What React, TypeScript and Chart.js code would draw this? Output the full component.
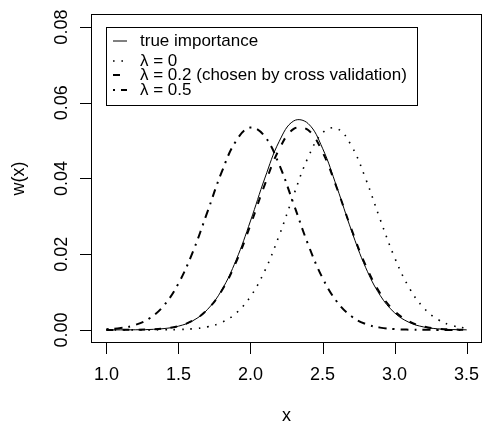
import React, { useEffect, useRef } from "react";
import { Chart, registerables } from "chart.js";

Chart.register(...registerables);

// ---- data ----
const xValues = [1.0, 1.1, 1.2, 1.3, 1.4, 1.5, 1.6, 1.7, 1.8, 1.9, 2.0, 2.1, 2.2, 2.3, 2.4, 2.5, 2.6, 2.7, 2.8, 2.9, 3.0, 3.1, 3.2, 3.3, 3.4, 3.5];
const trueImportance = [0.0, 0.00001, 0.00003, 0.00011, 0.00035, 0.00098, 0.00242, 0.00533, 0.01049, 0.01841, 0.02878, 0.04012, 0.04985, 0.05521, 0.05452, 0.04799, 0.03766, 0.02634, 0.01643, 0.00913, 0.00452, 0.002, 0.00079, 0.00028, 0.00009, 0.00002];
const lambda0 = [0.0, 0.0, 0.0, 0.00001, 0.00003, 0.00009, 0.00029, 0.0008, 0.00199, 0.00442, 0.0088, 0.01568, 0.02501, 0.03568, 0.04557, 0.05207, 0.05323, 0.04871, 0.03988, 0.02921, 0.01915, 0.01123, 0.0059, 0.00277, 0.00116, 0.00044];
const lambda02 = [0.0, 0.00001, 0.00004, 0.00013, 0.00038, 0.00102, 0.00246, 0.00533, 0.01032, 0.01788, 0.02772, 0.03847, 0.04778, 0.0531, 0.0528, 0.04699, 0.03742, 0.02667, 0.017, 0.0097, 0.00496, 0.00226, 0.00093, 0.00034, 0.00011, 0.00003];
const lambda05 = [0.00017, 0.00049, 0.0013, 0.00307, 0.0065, 0.01225, 0.02063, 0.03103, 0.04167, 0.04995, 0.05347, 0.0511, 0.0436, 0.03321, 0.02259, 0.01372, 0.00744, 0.0036, 0.00156, 0.0006, 0.00021, 0.00006, 0.00002, 0.0, 0.0, 0.0];

const xTickValues = [1.0, 1.5, 2.0, 2.5, 3.0, 3.5];
const xTickLabels = ["1.0", "1.5", "2.0", "2.5", "3.0", "3.5"];
const yTickValues = [0, 0.02, 0.04, 0.06, 0.08];
const yTickLabels = ["0.00", "0.02", "0.04", "0.06", "0.08"];
const seriesLabels = ["true importance", "λ = 0", "λ = 0.2 (chosen by cross validation)", "λ = 0.5"];
const xTitle = "x";
const yTitle = "w(x)";

const FONT = '"Liberation Sans", Arial, Helvetica, sans-serif';
const lineStyles = [
  { width: 1, dash: [] as number[] },
  { width: 1.6, dash: [1.6, 6.8] },
  { width: 2, dash: [7, 9] },
  { width: 2, dash: [2, 6, 8, 6] },
];
const legendRowY = [41, 61, 75, 90];

const rPlotPlugin = {
  id: "rPlot",
  afterDraw(chart: any) {
    const ctx = chart.ctx as CanvasRenderingContext2D;
    const { left, top, right, bottom } = chart.chartArea;
    const xs = chart.scales.x;
    const ys = chart.scales.y;
    ctx.save();
    ctx.strokeStyle = "#000";
    ctx.fillStyle = "#000";
    ctx.lineWidth = 1;
    ctx.setLineDash([]);
    // box
    ctx.strokeRect(left - 0.5, top - 0.5, right - left + 1, bottom - top + 1);
    // y ticks
    ctx.beginPath();
    yTickValues.forEach((v) => {
      const py = Math.round(ys.getPixelForValue(v)) + 0.5;
      ctx.moveTo(left - 12, py);
      ctx.lineTo(left - 0.5, py);
    });
    // x ticks
    xTickValues.forEach((v) => {
      const px = Math.round(xs.getPixelForValue(v)) + 0.5;
      ctx.moveTo(px, bottom + 0.5);
      ctx.lineTo(px, bottom + 12);
    });
    ctx.stroke();

    ctx.font = `18px ${FONT}`;
    ctx.textAlign = "center";
    ctx.textBaseline = "alphabetic";
    xTickValues.forEach((v, i) => {
      ctx.fillText(xTickLabels[i], xs.getPixelForValue(v), 380);
    });
    yTickValues.forEach((v, i) => {
      ctx.save();
      ctx.translate(67, ys.getPixelForValue(v));
      ctx.rotate(-Math.PI / 2);
      ctx.fillText(yTickLabels[i], 0, 0);
      ctx.restore();
    });
    ctx.fillText(xTitle, (left + right) / 2, 421);
    ctx.save();
    ctx.translate(24, (top + bottom) / 2);
    ctx.rotate(-Math.PI / 2);
    ctx.fillText(yTitle, 0, 0);
    ctx.restore();

    // legend
    ctx.strokeRect(106.5, 27.5, 311, 78);
    ctx.font = `17px ${FONT}`;
    ctx.textAlign = "left";
    ctx.textBaseline = "middle";
    seriesLabels.forEach((lab, i) => {
      const y = legendRowY[i];
      ctx.save();
      ctx.lineWidth = lineStyles[i].width;
      ctx.setLineDash(lineStyles[i].dash);
      ctx.lineCap = "butt";
      ctx.beginPath();
      ctx.moveTo(113, y);
      ctx.lineTo(127, y);
      ctx.stroke();
      ctx.restore();
      ctx.fillText(lab, 140, y);
    });
    ctx.restore();
  },
};

export default function App() {
  const canvasRef = useRef<HTMLCanvasElement | null>(null);

  useEffect(() => {
    const canvas = canvasRef.current;
    if (!canvas) return;
    const series = [trueImportance, lambda0, lambda02, lambda05];
    const chart = new Chart(canvas, {
      type: "line",
      data: {
        datasets: series.map((vals, i) => ({
          label: seriesLabels[i],
          data: xValues.map((x, j) => ({ x, y: vals[j] })),
          borderColor: "#000",
          backgroundColor: "#000",
          borderWidth: lineStyles[i].width,
          borderDash: lineStyles[i].dash,
          borderCapStyle: "butt",
          pointRadius: 0,
          tension: 0.4,
          fill: false,
        })),
      },
      options: {
        responsive: false,
        animation: false,
        devicePixelRatio: 1,
        layout: { padding: { left: 92, top: 15, right: 3, bottom: 84 } },
        scales: {
          x: { type: "linear", min: 0.9, max: 3.6, display: false },
          y: { type: "linear", min: -0.0032, max: 0.0832, display: false },
        },
        plugins: { legend: { display: false }, tooltip: { enabled: false } },
      },
      plugins: [rPlotPlugin],
    } as any);
    return () => chart.destroy();
  }, []);

  return (
    <div style={{ position: "fixed", left: 0, top: 0, width: 484, height: 426, background: "#fff" }}>
      <canvas ref={canvasRef} width={484} height={426} style={{ display: "block" }} />
    </div>
  );
}
